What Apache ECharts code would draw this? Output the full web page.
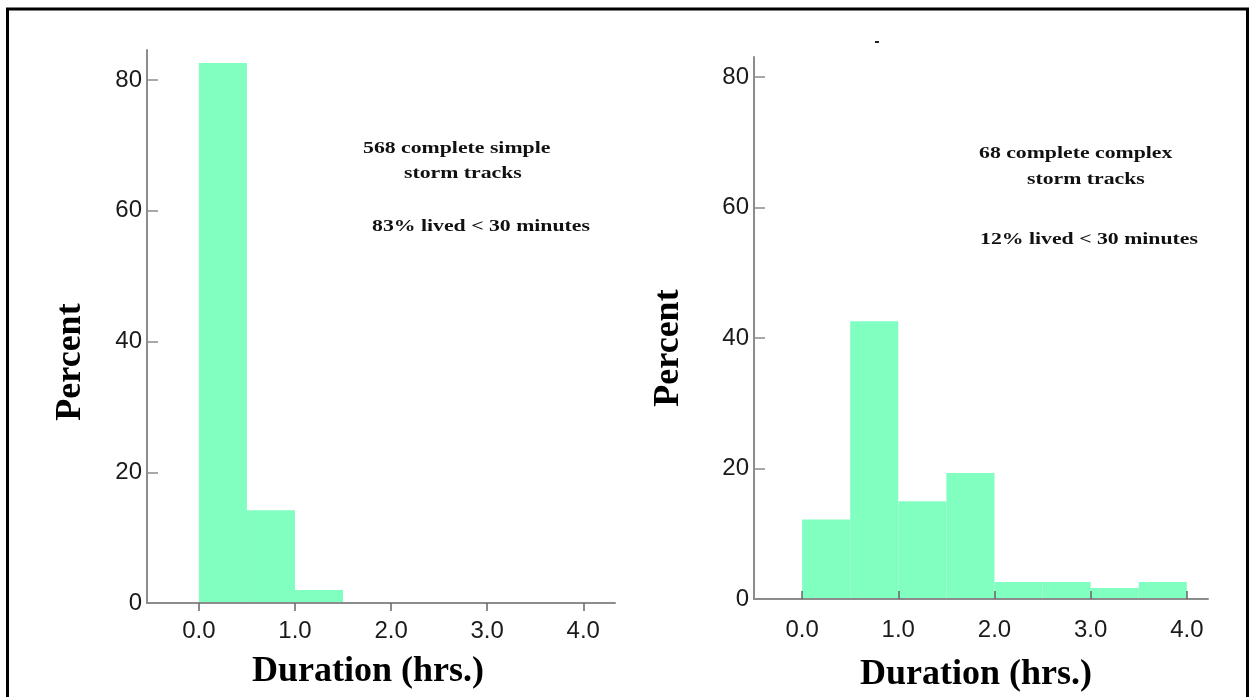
<!DOCTYPE html>
<html>
<head>
<meta charset="utf-8">
<script src="https://cdn.jsdelivr.net/npm/echarts@6/dist/echarts.min.js"></script>
<style>
  html, body { margin: 0; padding: 0; background: #fff; }
  #chart { width: 1250px; height: 697px; }
</style>
</head>
<body>
<div id="chart"></div>
<script>
// ---- data ----
const leftBinStart = [0.0, 0.5, 1.0];
const leftBinEnd   = [0.5, 1.0, 1.5];
const leftPercent  = [82.6, 14.2, 2.0];

const rightBinStart = [0.0, 0.5, 1.0, 1.5, 2.0, 2.5, 3.0, 3.5];
const rightBinEnd   = [0.5, 1.0, 1.5, 2.0, 2.5, 3.0, 3.5, 4.0];
const rightPercent  = [12.2, 42.6, 15.0, 19.3, 2.6, 2.6, 1.7, 2.6];

const xTickValues = [0, 1, 2, 3, 4];
const yTickValues = [0, 20, 40, 60, 80];

const leftNote  = ['568 complete simple', 'storm tracks', '83% lived < 30 minutes'];
const rightNote = ['68 complete complex', 'storm tracks', '12% lived < 30 minutes'];
const xTitle = 'Duration (hrs.)';
const yTitle = 'Percent';

// ---- styles ----
const BAR = 'rgb(128,255,192)';
const AXIS = '#8c8c8c';
const SERIF = '"Liberation Serif", "Times New Roman", serif';
const SANS = '"Liberation Sans", Arial, sans-serif';

function bins(s, e, v) { return s.map((x, i) => [x, e[i], v[i]]); }

function renderBin(params, api) {
  const p0 = api.coord([api.value(0), api.value(2)]);
  const p1 = api.coord([api.value(1), 0]);
  return {
    type: 'rect',
    shape: { x: p0[0], y: p0[1], width: p1[0] - p0[0], height: p1[1] - p0[1] },
    style: { fill: BAR }
  };
}

function xAxisCfg(idx, min, max, inside, margin) {
  return {
    type: 'value', gridIndex: idx, min: min, max: max, z: 5,
    splitLine: { show: false },
    axisLine: { show: true, onZero: false, lineStyle: { color: AXIS, width: 2 } },
    axisTick: { show: true, inside: inside, length: 8, customValues: xTickValues, lineStyle: { color: '#666', width: 1.5 } },
    axisLabel: {
      customValues: xTickValues, margin: margin, color: '#1a1a1a', fontFamily: SANS, fontSize: 24,
      formatter: v => xTickValues.includes(v) ? v.toFixed(1) : ''
    }
  };
}
function yAxisCfg(idx, max) {
  return {
    type: 'value', gridIndex: idx, min: 0, max: max, z: 5,
    splitLine: { show: false },
    axisLine: { show: true, onZero: false, lineStyle: { color: AXIS, width: 2 } },
    axisTick: { show: true, inside: true, length: 11, customValues: yTickValues, lineStyle: { color: AXIS, width: 1.5 } },
    axisLabel: {
      customValues: yTickValues, margin: 5, color: '#1a1a1a', fontFamily: SANS, fontSize: 24,
      formatter: v => yTickValues.includes(v) ? String(v) : ''
    }
  };
}

function noteTexts(lines, xs, ys) {
  return lines.map((t, i) => ({
    type: 'text', x: xs[i], y: ys[i], scaleX: 1.36, z: 10,
    style: { text: t, fill: '#111', font: 'bold 16px ' + SERIF, align: 'left', verticalAlign: 'middle', textAlign: 'left', textVerticalAlign: 'middle' }
  }));
}
function titleText(t, x, y, rot) {
  return {
    type: 'text', x: x, y: y, rotation: rot || 0, z: 10,
    style: { text: t, fill: '#000', font: 'bold 36px ' + SERIF, align: 'center', verticalAlign: 'middle', textAlign: 'center', textVerticalAlign: 'middle' }
  };
}

const chart = echarts.init(document.getElementById('chart'), null, { renderer: 'canvas' });
chart.setOption({
  backgroundColor: '#fff',
  animation: false,
  grid: [
    { left: 147, right: 635, top: 50, bottom: 94 },
    { left: 754, right: 42, top: 57, bottom: 98 }
  ],
  xAxis: [
    xAxisCfg(0, -0.54, 4.33, false, 16),
    xAxisCfg(1, -0.5, 4.22, true, 19)
  ],
  yAxis: [
    yAxisCfg(0, 84.6),
    yAxisCfg(1, 83.1)
  ],
  series: [
    { type: 'custom', xAxisIndex: 0, yAxisIndex: 0, z: 2, renderItem: renderBin,
      encode: { x: [0, 1], y: 2 }, data: bins(leftBinStart, leftBinEnd, leftPercent) },
    { type: 'custom', xAxisIndex: 1, yAxisIndex: 1, z: 2, renderItem: renderBin,
      encode: { x: [0, 1], y: 2 }, data: bins(rightBinStart, rightBinEnd, rightPercent) }
  ],
  graphic: [
    { type: 'rect', z: 20, shape: { x: 7.5, y: 9, width: 1240, height: 720 },
      style: { fill: 'none', stroke: '#000', lineWidth: 3 } },
    { type: 'rect', z: 20, shape: { x: 875, y: 41, width: 4, height: 2 }, style: { fill: '#222' } },
    ...noteTexts(leftNote, [363, 404, 372], [149, 174, 227]),
    ...noteTexts(rightNote, [979, 1027, 980], [154, 180, 240]),
    titleText(xTitle, 368, 672),
    titleText(xTitle, 976, 675),
    titleText(yTitle, 71, 362, Math.PI / 2),
    titleText(yTitle, 669, 348, Math.PI / 2)
  ]
});
</script>
</body>
</html>
